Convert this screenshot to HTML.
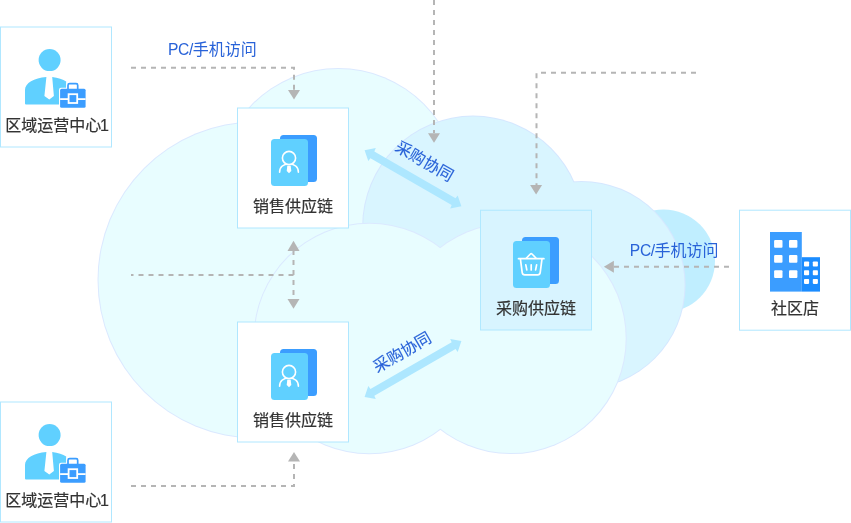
<!DOCTYPE html>
<html lang="zh-CN">
<head>
<meta charset="utf-8">
<title>供应链协同</title>
<style>
html,body{margin:0;padding:0;background:#fff;}
body{width:851px;height:523px;overflow:hidden;font-family:"Liberation Sans", "Noto Sans CJK SC", sans-serif;}
svg{display:block;will-change:transform;}
</style>
</head>
<body>
<svg width="851" height="523" viewBox="0 0 851 523" font-family='"Liberation Sans", "Noto Sans CJK SC", sans-serif'>
<rect width="851" height="523" fill="#fff"/>
<circle cx="663.5" cy="261" r="51.5" fill="#c0eeff"/><circle cx="663.5" cy="261" r="50.5" fill="#c0eeff"/>
<circle cx="256" cy="280" r="158.5" fill="#dbe9ff"/><circle cx="338.2" cy="189.3" r="121.3" fill="#dbe9ff"/><circle cx="256" cy="280" r="157.5" fill="#e8fdff"/><circle cx="338.2" cy="189.3" r="120.3" fill="#e8fdff"/>
<circle cx="473" cy="226.4" r="110.8" fill="#d5e7ff"/><circle cx="581.5" cy="285" r="104.1" fill="#d5e7ff"/><circle cx="473" cy="226.4" r="109.8" fill="#d9f5ff"/><circle cx="581.5" cy="285" r="103.1" fill="#d9f5ff"/>
<circle cx="369.3" cy="338.5" r="115.8" fill="#dbe9ff"/><circle cx="511" cy="338.4" r="115.7" fill="#dbe9ff"/><circle cx="369.3" cy="338.5" r="114.8" fill="#e8fdff"/><circle cx="511" cy="338.4" r="114.7" fill="#e8fdff"/>
<path d="M131 67.8 L294 67.8 L294 90" fill="none" stroke="#b5b5b5" stroke-width="2" stroke-dasharray="5 5"/>
<polygon points="294,99.5 288.0,90.0 300.0,90.0" fill="#b5b5b5"/>
<path d="M434 0 L434 133" fill="none" stroke="#b5b5b5" stroke-width="2" stroke-dasharray="5 5"/>
<polygon points="434,142.7 428.0,133.2 440.0,133.2" fill="#b5b5b5"/>
<path d="M696 72.8 L536.5 72.8 L536.5 185" fill="none" stroke="#b5b5b5" stroke-width="2" stroke-dasharray="5 5"/>
<polygon points="536.1,194.5 530.1,185.0 542.1,185.0" fill="#b5b5b5"/>
<path d="M729 266.8 L614 266.8" fill="none" stroke="#b5b5b5" stroke-width="2" stroke-dasharray="5 5"/>
<polygon points="603.9,266.8 613.9,260.8 613.9,272.8" fill="#b5b5b5"/>
<path d="M293.5 275 L131 275" fill="none" stroke="#b5b5b5" stroke-width="2" stroke-dasharray="5 5"/>
<path d="M293.5 250 L293.5 299" fill="none" stroke="#b5b5b5" stroke-width="2" stroke-dasharray="5 5"/>
<polygon points="293.5,240.8 287.5,251.0 299.5,251.0" fill="#b5b5b5"/>
<polygon points="293.5,308.8 287.5,299.0 299.5,299.0" fill="#b5b5b5"/>
<path d="M131 486 L294 486 L294 462" fill="none" stroke="#b5b5b5" stroke-width="2" stroke-dasharray="5 5"/>
<polygon points="294,452 288.0,461.5 300.0,461.5" fill="#b5b5b5"/>
<polygon transform="translate(364.6,150.3) rotate(30.006)" points="0.00,0.00 8.60,-7.50 9.00,-3.90 102.78,-3.90 103.18,-7.50 111.78,0.00 103.18,7.50 102.78,3.90 9.00,3.90 8.60,7.50" fill="#ade7ff"/>
<polygon transform="translate(364.6,396.9) rotate(-29.961)" points="0.00,0.00 8.60,-7.50 9.00,-3.90 102.73,-3.90 103.13,-7.50 111.73,0.00 103.13,7.50 102.73,3.90 9.00,3.90 8.60,7.50" fill="#ade7ff"/>
<rect x="0.5" y="27" width="111" height="120" fill="#ffffff" stroke="#b0e7ff" stroke-width="1"/>
<g transform="translate(0,27)"><circle cx="49.6" cy="33.1" r="11" fill="#60d0ff"/><path d="M25 76.6 V63 C25 56 34 51 46.4 50 L44.4 69 L49.3 72.6 L53.9 69 L52.2 50 C58 50.6 63 52.3 66.2 54.5 V77.6 H26 Q25 77.6 25 76.6 Z" fill="#60d0ff"/><rect x="59" y="60.8" width="27.6" height="20.2" rx="2" fill="#fff"/><rect x="66.2" y="54.8" width="13.3" height="8" rx="2" fill="#fff"/><rect x="68" y="56.6" width="9.7" height="8" rx="1.6" fill="#fff" stroke="#3b9dff" stroke-width="1.7"/><rect x="60.1" y="61.8" width="25.5" height="19" rx="1.5" fill="#3b9dff"/><rect x="60.1" y="71.2" width="25.5" height="1.8" fill="#fff"/><rect x="68.6" y="67.2" width="8.6" height="8.8" fill="#3b9dff" stroke="#fff" stroke-width="1.8"/></g>
<text x="5.25" y="130.5" font-size="16" fill="#333333" stroke="#333333" stroke-width="0.2" text-anchor="start" >区域运营中心<tspan x="100">1</tspan></text>
<rect x="0.5" y="402" width="111" height="120" fill="#ffffff" stroke="#b0e7ff" stroke-width="1"/>
<g transform="translate(0,402)"><circle cx="49.6" cy="33.1" r="11" fill="#60d0ff"/><path d="M25 76.6 V63 C25 56 34 51 46.4 50 L44.4 69 L49.3 72.6 L53.9 69 L52.2 50 C58 50.6 63 52.3 66.2 54.5 V77.6 H26 Q25 77.6 25 76.6 Z" fill="#60d0ff"/><rect x="59" y="60.8" width="27.6" height="20.2" rx="2" fill="#fff"/><rect x="66.2" y="54.8" width="13.3" height="8" rx="2" fill="#fff"/><rect x="68" y="56.6" width="9.7" height="8" rx="1.6" fill="#fff" stroke="#3b9dff" stroke-width="1.7"/><rect x="60.1" y="61.8" width="25.5" height="19" rx="1.5" fill="#3b9dff"/><rect x="60.1" y="71.2" width="25.5" height="1.8" fill="#fff"/><rect x="68.6" y="67.2" width="8.6" height="8.8" fill="#3b9dff" stroke="#fff" stroke-width="1.8"/></g>
<text x="5.25" y="505.5" font-size="16" fill="#333333" stroke="#333333" stroke-width="0.2" text-anchor="start" >区域运营中心<tspan x="100">1</tspan></text>
<rect x="237.5" y="108" width="111" height="120" fill="#ffffff" stroke="#b0e7ff" stroke-width="1"/>
<g transform="translate(237,108)"><rect x="43" y="27" width="37" height="47" rx="3.5" fill="#3b9dff"/><rect x="34" y="31" width="37" height="47" rx="3.5" fill="#60d0ff"/><g fill="none" stroke="#fff" stroke-width="1.6" stroke-linecap="round"><path d="M42.6 64.3 C42.6 59 46.5 56 52 56 C57.5 56 61.4 59 61.4 64.3"/><circle cx="52" cy="50" r="6.6" fill="#60d0ff"/></g><path d="M50.3 57.8 L53.7 57.8 L54.3 63 L52 65.2 L49.7 63 Z" fill="#fff"/></g>
<text x="293" y="211.5" font-size="16" fill="#333333" stroke="#333333" stroke-width="0.2" text-anchor="middle" >销售供应链</text>
<rect x="237.5" y="322" width="111" height="120" fill="#ffffff" stroke="#b0e7ff" stroke-width="1"/>
<g transform="translate(237,322)"><rect x="43" y="27" width="37" height="47" rx="3.5" fill="#3b9dff"/><rect x="34" y="31" width="37" height="47" rx="3.5" fill="#60d0ff"/><g fill="none" stroke="#fff" stroke-width="1.6" stroke-linecap="round"><path d="M42.6 64.3 C42.6 59 46.5 56 52 56 C57.5 56 61.4 59 61.4 64.3"/><circle cx="52" cy="50" r="6.6" fill="#60d0ff"/></g><path d="M50.3 57.8 L53.7 57.8 L54.3 63 L52 65.2 L49.7 63 Z" fill="#fff"/></g>
<text x="293" y="425.5" font-size="16" fill="#333333" stroke="#333333" stroke-width="0.2" text-anchor="middle" >销售供应链</text>
<rect x="480.5" y="210.25" width="111" height="119.75" fill="#d8f4ff" stroke="#b0e8ff" stroke-width="1"/>
<g transform="translate(479,210)"><rect x="43" y="27" width="37" height="47" rx="3.5" fill="#3b9dff"/><rect x="34" y="31" width="37" height="47" rx="3.5" fill="#60d0ff"/><g transform="translate(1.2,0.2)" fill="none" stroke="#fff" stroke-width="1.7" stroke-linecap="round" stroke-linejoin="round"><path d="M38.3 48.5 H63.7"/><path d="M40.2 48.7 L42 62.5 Q42.3 64.7 44.5 64.7 H57.5 Q59.7 64.7 60 62.5 L61.8 48.7"/><path d="M46.3 47.8 L50.2 43.8 Q51 43 51.8 43.8 L55.7 47.8"/><path d="M45.6 54.6 L46.6 59.6 M51 54.6 V59.8 M56.4 54.6 L55.4 59.6"/></g></g>
<text x="536" y="313.5" font-size="16" fill="#333333" stroke="#333333" stroke-width="0.2" text-anchor="middle" >采购供应链</text>
<rect x="739.5" y="210.2" width="111" height="120" fill="#ffffff" stroke="#b0e7ff" stroke-width="1"/>
<g transform="translate(739,210)"><rect x="31" y="22" width="31.8" height="59.6" fill="#3b9dff"/><rect x="62.8" y="47.2" width="18.2" height="34.4" fill="#1b8cff"/><rect x="35.1" y="29.9" width="8.4" height="7.8" rx="1" fill="#fff"/><rect x="35.1" y="44.9" width="8.4" height="7.8" rx="1" fill="#fff"/><rect x="35.1" y="60.2" width="8.4" height="7.8" rx="1" fill="#fff"/><rect x="50" y="29.9" width="8.4" height="7.8" rx="1" fill="#fff"/><rect x="50" y="44.9" width="8.4" height="7.8" rx="1" fill="#fff"/><rect x="50" y="60.2" width="8.4" height="7.8" rx="1" fill="#fff"/><rect x="65" y="51.5" width="5.1" height="5" rx="0.8" fill="#fff"/><rect x="65" y="60.2" width="5.1" height="5" rx="0.8" fill="#fff"/><rect x="65" y="68.9" width="5.1" height="5" rx="0.8" fill="#fff"/><rect x="73.8" y="51.5" width="5.1" height="5" rx="0.8" fill="#fff"/><rect x="73.8" y="60.2" width="5.1" height="5" rx="0.8" fill="#fff"/><rect x="73.8" y="68.9" width="5.1" height="5" rx="0.8" fill="#fff"/></g>
<text x="795" y="313.5" font-size="16" fill="#333333" stroke="#333333" stroke-width="0.2" text-anchor="middle" >社区店</text>
<text y="54.5" font-size="16" fill="#2862d8"><tspan x="167.9" font-size="15.6" letter-spacing="-0.3">PC/</tspan><tspan x="192.8">手机访问</tspan></text>
<text y="255.5" font-size="16" fill="#2862d8"><tspan x="629.8" font-size="15.6" letter-spacing="-0.3">PC/</tspan><tspan x="654.6">手机访问</tspan></text>
<text font-size="16" fill="#2862d8" text-anchor="middle" transform="translate(424.6,161) rotate(30)" y="5.8" stroke="#2862d8" stroke-width="0.12">采购协同</text>
<text font-size="16" fill="#2862d8" text-anchor="middle" transform="translate(402.1,351.9) rotate(-30)" y="5.8" stroke="#2862d8" stroke-width="0.12">采购协同</text>
</svg>
</body>
</html>
